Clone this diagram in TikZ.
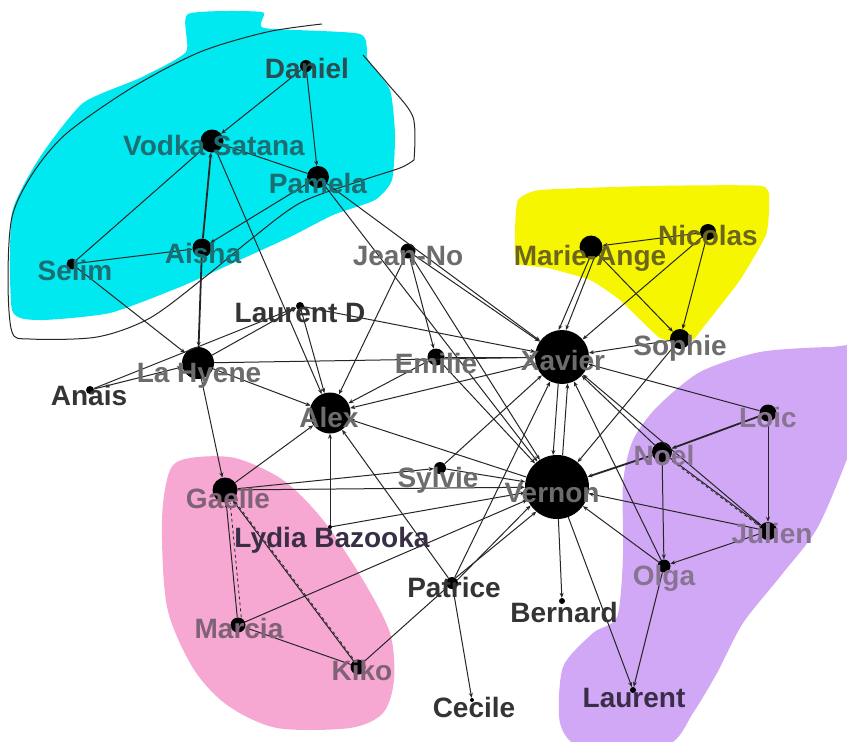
\documentclass[tikz,border=0pt]{standalone}
\usepackage{fontspec}
\setmainfont{Liberation Sans}
\usetikzlibrary{arrows.meta}
\definecolor{cyanblob}{RGB}{0,232,240}
\definecolor{yellowblob}{RGB}{246,246,0}
\definecolor{pinkblob}{RGB}{247,168,210}
\definecolor{purpleblob}{RGB}{208,168,246}
\definecolor{labteal}{RGB}{28,110,114}
\definecolor{labdan}{RGB}{45,78,80}
\definecolor{labgray}{RGB}{108,108,108}
\definecolor{labolive}{RGB}{108,102,28}
\definecolor{labdark}{RGB}{52,52,52}
\definecolor{labpink}{RGB}{128,98,118}
\definecolor{labpurple}{RGB}{136,116,146}
\definecolor{labpdark}{RGB}{58,45,70}
\definecolor{edgecol}{RGB}{38,38,38}
\begin{document}
\begin{tikzpicture}[x=1pt,y=-1pt,
  vx/.style={circle,fill=black,inner sep=0pt,minimum size=#1},
  lab/.style={font=\bfseries\fontsize{28}{30}\selectfont,inner sep=0pt,text height=20pt,text depth=0pt},
  ed/.style={draw=edgecol,line width=1pt,-{Stealth[length=5pt,width=4pt]}},
  thk/.style={ed,line width=1.8pt},
  dsh/.style={draw=edgecol,line width=0.8pt,dashed}]
\clip (0,0) rectangle (847,742);
\fill[white] (0,0) rectangle (847,742);
% blobs
\fill[cyanblob] plot[smooth cycle,tension=0.35] coordinates {(12,213) (40,157) (83,103) (140,78) (186,52) (188,14) (262,12) (264,28) (360,34) (368,60) (390,90) (395,135) (392,180) (375,200) (333,215) (290,237) (233,263) (180,287) (110,313) (40,320) (12,310)};
\fill[yellowblob] plot[smooth cycle,tension=0.3] coordinates {(518,200) (540,190) (650,186) (762,186) (769,205) (766,235) (740,280) (705,325) (690,342) (660,338) (620,300) (590,280) (548,268) (517,263) (515,230)};
\fill[pinkblob] plot[smooth cycle,tension=0.5] coordinates {(170,470) (190,458) (235,458) (283,480) (323,520) (363,580) (390,633) (394,680) (383,713) (350,728) (277,728) (227,705) (193,668) (167,607) (162,520)};
\fill[purpleblob] plot[smooth cycle,tension=0.45] coordinates {(700,372) (760,352) (830,347) (860,350) (860,420) (820,523) (783,573) (743,623) (717,673) (693,713) (667,745) (583,748) (560,723) (563,667) (593,633) (617,617) (623,557) (623,483) (633,440) (657,407)};
% hand-drawn outline
\draw[black!85,line width=1pt] plot[smooth,tension=0.5] coordinates {(363,55) (387,83) (413,117) (414,160)};
\draw[black!85,line width=1pt] plot[smooth,tension=0.5] coordinates {(414,160) (400,168) (360,181) (300,203) (250,240) (205,277) (150,318) (97,337) (30,339) (12,332) (8,280) (12,217) (33,173) (67,133) (133,87) (200,52) (267,32) (322,24)};
% vertices
\node[vx=12pt] (daniel) at (306,66) {};
\node[vx=23pt] (vodka) at (212,141) {};
\node[vx=22pt] (pamela) at (318,177) {};
\node[vx=19pt] (aisha) at (202,248) {};
\node[vx=11pt] (selim) at (72,264) {};
\node[vx=15pt] (jeanno) at (408,251) {};
\node[vx=8pt] (laurentd) at (300,306) {};
\node[vx=32pt] (lahyene) at (198,363) {};
\node[vx=8pt] (anais) at (90,390) {};
\node[vx=41pt] (alex) at (330,413) {};
\node[vx=17pt] (emilie) at (436,357) {};
\node[vx=54pt] (xavier) at (562,357) {};
\node[vx=23pt] (marieange) at (591,247) {};
\node[vx=16pt] (nicolas) at (708,232) {};
\node[vx=20pt] (sophie) at (680,339) {};
\node[vx=17pt] (loic) at (768,413) {};
\node[vx=20pt] (noel) at (662,452) {};
\node[vx=18pt] (julien) at (768,531) {};
\node[vx=13pt] (olga) at (664,566) {};
\node[vx=64pt] (vernon) at (557,487) {};
\node[vx=12pt] (sylvie) at (440,468) {};
\node[vx=25pt] (gaelle) at (225,490) {};
\node[vx=4pt] (lydia) at (330,527) {};
\node[vx=12pt] (patrice) at (452,583) {};
\node[vx=6pt] (bernard) at (562,601) {};
\node[vx=4pt] (cecile) at (472,700) {};
\node[vx=15pt] (marcia) at (238,625) {};
\node[vx=15pt] (kiko) at (358,667) {};
\node[vx=6pt] (laurent) at (633,690) {};
% edges: cyan group
\draw[ed] (daniel) -- (vodka);
\draw[ed] (daniel) -- (pamela);
\draw[ed] (pamela) -- (vodka);
\draw[thk] (aisha) -- (vodka);
\draw[ed] (selim) -- (vodka);
\draw[ed] (selim) -- (aisha);
\draw[ed] (pamela) -- (aisha);
\draw[thk] (aisha) -- (lahyene);
\draw[ed] (selim) -- (lahyene);
\draw[ed] (vodka) -- (alex);
\draw[ed] (pamela) -- (xavier);
\draw[ed] (pamela) -- (vernon);
% middle
\draw[ed] (jeanno) -- (xavier);
\draw[ed] (jeanno) -- (vernon);
\draw[ed] (jeanno) -- (emilie);
\draw[ed] (jeanno) -- (alex);
\draw[ed] (laurentd) -- (alex);
\draw[ed] (laurentd) -- (xavier);
\draw[ed] (anais) -- (lahyene);
\draw[ed] (anais) -- (laurentd);
\draw[ed] (lahyene) -- (laurentd);
\draw[ed] (lahyene) -- (alex);
\draw[ed] (lahyene) -- (xavier);
\draw[ed] (lahyene) -- (gaelle);
\draw[ed] (emilie) -- (alex);
\draw[ed] (emilie) -- (xavier);
\draw[ed] (emilie) -- (vernon);
\draw[ed] (xavier) -- (alex);
\draw[ed] (gaelle) -- (alex);
\draw[ed] (lydia) -- (alex);
\draw[ed] (patrice) -- (alex);
\draw[ed] (vernon) -- (alex);
\draw[ed] (sylvie) -- (xavier);
\draw[ed] (sylvie) -- (vernon);
\draw[ed] (gaelle) -- (sylvie);
\draw[ed] (gaelle) -- (vernon);
\draw[ed] (lydia) -- (vernon);
\draw[ed] (marcia) -- (vernon);
% pink group
\draw[ed] (marcia) -- (gaelle);
\draw[dsh,transform canvas={shift={(4pt,0pt)}}] (marcia) -- (gaelle);
\draw[ed] (kiko) -- (marcia);
\draw[ed] (kiko) -- (gaelle);
\draw[dsh,transform canvas={shift={(3pt,-2pt)}}] (kiko) -- (gaelle);
\draw[ed] (kiko) -- (patrice);
\draw[ed] (patrice.30) -- (vernon.215);
\draw[ed] (patrice.55) -- (vernon.230);
\draw[ed] (patrice) -- (xavier);
\draw[ed] (patrice) -- (cecile);
\draw[ed] (vernon) -- (bernard);
\draw[ed] (vernon) -- (laurent);
\draw[ed] (olga) -- (laurent);
% hubs
\draw[ed] (xavier.262) -- (vernon.97);
\draw[ed] (vernon.80) -- (xavier.282);
\draw[ed] (marieange.262) -- (xavier.97);
\draw[ed] (marieange.285) -- (xavier.82);
\draw[ed] (nicolas) -- (xavier);
\draw[ed] (sophie) -- (xavier);
\draw[ed] (nicolas) -- (marieange);
\draw[ed] (marieange) -- (sophie);
\draw[ed] (nicolas) -- (sophie);
\draw[ed] (sophie) -- (vernon);
\draw[ed] (loic) -- (xavier);
\draw[ed] (noel) -- (xavier);
\draw[ed] (julien) -- (xavier);
\draw[ed] (olga) -- (xavier);
% purple group
\draw[thk] (noel) -- (vernon);
\draw[thk] (loic) -- (noel);
\draw[ed] (loic) -- (julien);
\draw[ed] (noel) -- (julien);
\draw[dsh,transform canvas={shift={(2pt,-3pt)}}] (noel) -- (julien);
\draw[ed] (noel) -- (olga);
\draw[ed] (julien) -- (olga);
\draw[ed] (julien) -- (vernon);
\draw[ed] (olga) -- (vernon);
% labels
\node[lab,text=labdan] (tdaniel) at (307,68) {Daniel};
\node[lab,text=labteal] (tvodka) at (214,145) {Vodka Satana};
\node[lab,text=labteal] (tpamela) at (318,183) {Pamela};
\node[lab,text=labteal] (taisha) at (203,253) {Aisha};
\node[lab,text=labteal] (tselim) at (75,270) {Selim};
\node[lab,text=labgray] (tjeanno) at (408,255) {Jean-No};
\node[lab,text=labdark] (tlaurentd) at (300,312) {Laurent D};
\node[lab,text=labgray] (tlahyene) at (199,372) {La Hyene};
\node[lab,text=labdark] (tanais) at (89,395) {Anais};
\node[lab,text=labgray] (talex) at (329,417) {Alex};
\node[lab,text=labgray] (temilie) at (436,363) {Emilie};
\node[lab,text=labgray] (txavier) at (563,360) {Xavier};
\node[lab,text=labolive] (tmarieange) at (590,255) {Marie-Ange};
\node[lab,text=labolive] (tnicolas) at (708,235) {Nicolas};
\node[lab,text=labgray] (tsophie) at (680,345) {Sophie};
\node[lab,text=labpurple] (tloic) at (768,417) {Loic};
\node[lab,text=labpurple] (tnoel) at (664,455) {Noel};
\node[lab,text=labgray] (tvernon) at (552,492) {Vernon};
\node[lab,text=labpurple] (tjulien) at (772,533) {Julien};
\node[lab,text=labpurple] (tolga) at (664,575) {Olga};
\node[lab,text=labdark] (tbernard) at (564,612) {Bernard};
\node[lab,text=labpdark] (tlaurent) at (634,697) {Laurent};
\node[lab,text=labpink] (tgaelle) at (228,498) {Gaelle};
\node[lab,text=labpdark] (tlydia) at (332,537) {Lydia Bazooka};
\node[lab,text=labgray] (tsylvie) at (438,477) {Sylvie};
\node[lab,text=labdark] (tpatrice) at (454,587) {Patrice};
\node[lab,text=labpink] (tmarcia) at (239,628) {Marcia};
\node[lab,text=labpink] (tkiko) at (362,670) {Kiko};
\node[lab,text=labdark] (tcecile) at (474,707) {Cecile};
\end{tikzpicture}
\end{document}
